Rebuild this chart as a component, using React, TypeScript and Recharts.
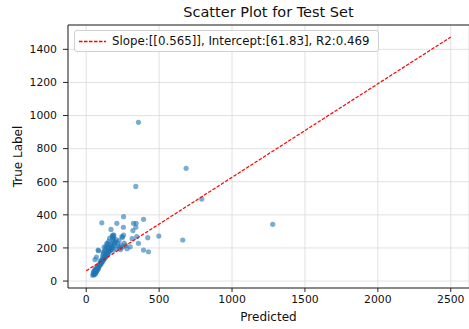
import React from "react";
import { ScatterChart, Scatter, XAxis, YAxis, CartesianGrid, ReferenceLine, Label } from "recharts";

// predicted vs true values
const predicted = [
  45, 50, 48, 55, 52, 58, 60, 62, 65, 55, 68, 70, 72, 60, 75, 78, 80, 66, 82, 85,
  88, 90, 76, 92, 95, 98, 100, 103, 96, 105, 108, 110, 112, 115, 118, 120, 122, 125, 128, 130,
  133, 135, 138, 140, 143, 145, 148, 150, 152, 155, 158, 160, 163, 165, 168, 170, 175, 178, 180, 185,
  190, 82, 116, 107, 178, 190, 244, 256, 187, 180, 84, 60, 70, 215, 225, 230, 240, 200, 205, 195,
  210, 220, 235, 250, 260, 270, 280, 190, 185, 175, 165, 155, 150, 140, 135, 130, 125, 145, 118, 112,
  142, 123, 170, 183, 249, 315, 347, 358, 422, 301, 393, 427, 255, 320, 340, 210, 256, 324, 342, 393,
  107, 160, 498, 662, 358, 685, 792, 340, 1279,
];
const trueLabel = [
  35, 40, 48, 38, 55, 45, 50, 42, 58, 62, 52, 65, 60, 70, 72, 68, 80, 75, 85, 78,
  90, 95, 88, 100, 105, 98, 110, 115, 120, 108, 120, 128, 118, 132, 125, 140, 135, 145, 150, 140,
  155, 160, 150, 165, 170, 158, 175, 180, 168, 185, 178, 190, 195, 185, 200, 192, 205, 198, 210, 188,
  215, 187, 175, 127, 272, 278, 268, 278, 265, 264, 183, 130, 145, 230, 245, 200, 215, 235, 250, 225,
  195, 210, 190, 205, 230, 215, 195, 240, 250, 230, 220, 240, 205, 200, 210, 190, 180, 225, 165, 150,
  228, 205, 312, 278, 264, 256, 268, 228, 262, 207, 187, 177, 325, 305, 325, 349, 389, 349, 349, 373,
  352, 258, 272, 248, 959, 681, 495, 572, 343,
];

const fitX = [0, 2500];
const fitY = [61.83, 1474.33];

const xTicks = [0, 500, 1000, 1500, 2000, 2500];
const yTicks = [0, 200, 400, 600, 800, 1000, 1200, 1400];

const points = predicted.map((x, i) => ({ x, y: trueLabel[i] }));
const fitLine = fitX.map((x, i) => ({ x, y: fitY[i] }));

const FONT = "'DejaVu Sans', sans-serif";
const tickStyle = { fontSize: 10.8, fill: "#111", fontFamily: FONT };

export default function App() {
  return (
    <div style={{ position: "absolute", left: 0, top: 0, width: 469, height: 329, background: "#fff", fontFamily: FONT }}>
      <div style={{ position: "absolute", left: 68, top: 3, width: 401, textAlign: "center", fontSize: 14.5, lineHeight: "18px", color: "#111" }}>
        Scatter Plot for Test Set
      </div>
      <ScatterChart width={469} height={329} margin={{ top: 25, right: 0, bottom: 0, left: 0 }}>
        <CartesianGrid stroke="#d9d9d9" strokeWidth={0.8} />
        <XAxis
          type="number"
          dataKey="x"
          domain={[-125, 2625]}
          ticks={xTicks}
          height={41}
          tickSize={4}
          tickMargin={3}
          stroke="#222"
          tick={tickStyle}
          allowDataOverflow
        >
          <Label
            content={({ viewBox }: any) => (
              <text x={viewBox.x + viewBox.width / 2} y={321} textAnchor="middle" fontSize={12} fontFamily={FONT} fill="#111">
                Predicted
              </text>
            )}
          />
        </XAxis>
        <YAxis
          type="number"
          dataKey="y"
          domain={[-42, 1547]}
          ticks={yTicks}
          width={68}
          tickSize={5}
          tickMargin={6}
          stroke="#222"
          tick={tickStyle}
          allowDataOverflow
        >
          <Label
            content={({ viewBox }: any) => {
              const cy = viewBox.y + viewBox.height / 2;
              return (
                <text x={22} y={cy} transform={`rotate(-90 22 ${cy})`} textAnchor="middle" fontSize={12} fontFamily={FONT} fill="#111">
                  True Label
                </text>
              );
            }}
          />
        </YAxis>
        <ReferenceLine y={1547} stroke="#222" strokeWidth={1} />
        <Scatter
          data={points}
          isAnimationActive={false}
          shape={(p: any) => <circle cx={p.cx} cy={p.cy} r={2.6} fill="#1f77b4" fillOpacity={0.6} />}
        />
        <Scatter
          data={fitLine}
          isAnimationActive={false}
          line={{ stroke: "#ff0000", strokeWidth: 1.2, strokeDasharray: "3.5 1.5" }}
          shape={() => <g />}
        />
      </ScatterChart>
      <div
        style={{
          position: "absolute",
          left: 74,
          top: 30,
          width: 303,
          height: 20,
          border: "1px solid #d0d0d0",
          borderRadius: 3,
          background: "rgba(255,255,255,0.85)",
          display: "flex",
          alignItems: "center",
          fontSize: 11.8,
          color: "#111",
        }}
      >
        <svg width={37} height={20} style={{ flex: "none" }}>
          <line x1={4} y1={10.5} x2={31} y2={10.5} stroke="#ff0000" strokeWidth={1.4} strokeDasharray="3.5 1.5" />
        </svg>
        <span style={{ whiteSpace: "nowrap" }}>Slope:[[0.565]], Intercept:[61.83], R2:0.469</span>
      </div>
    </div>
  );
}
